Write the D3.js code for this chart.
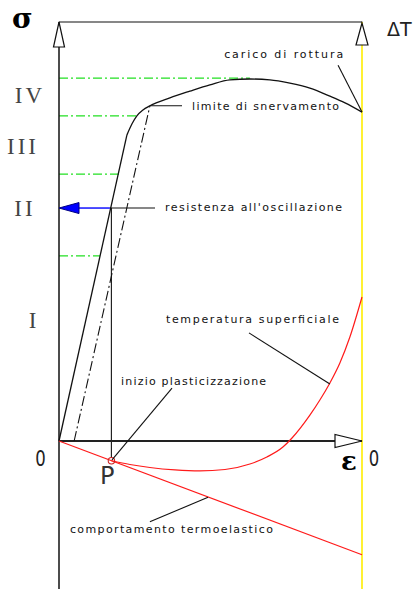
<!DOCTYPE html>
<html>
<head>
<meta charset="utf-8">
<script src="https://cdn.jsdelivr.net/npm/d3@7"></script>
<style>
  body { margin: 0; background: #fff; }
  svg { display: block; }
  .lbl { font-family: "DejaVu Sans", sans-serif; font-size: 11px; fill: #111; }
</style>
</head>
<body>
<script>
// strain and stress both as % of the drawn range (0 = origin, 100 = right / top border)
// elastic part of the stress-strain curve
const elasticStrain = [0, 22.4];
const elasticStress = [0, 73.0];
// plastic part up to rupture
const plasticStrain = [22.4, 24.1, 25.7, 27.7, 30.0, 36.6, 43.2, 49.8, 56.4, 63.0, 69.6, 76.2, 82.8, 89.4, 94.4, 100];
const plasticStress = [73.0, 75.7, 77.6, 79.0, 80.0, 81.9, 83.5, 85.0, 86.2, 86.4, 86.2, 85.4, 84.2, 82.3, 80.7, 78.5];
// unloading line (dash-dot) parallel to elastic line
const unloadStrain = [5.0, 30.0];
const unloadStress = [0, 80.0];

// green dash-dot stress levels and where they meet the curve
const levelStress = [86.6, 77.6, 63.7, 44.2];
const levelStrain = [63.0, 25.7, 19.8, 13.5];

// fatigue limit (blue arrow) and point P
const oscStress = 55.6;
const oscStrain = 16.8;
const pStrain = 17.3;

// temperature (right axis, ΔT in arbitrary units)
const thermoStrain = [0, 100];
const thermoDT = [0, -7.9];
const tempStrain = [17.3, 23.4, 30.0, 38.3, 46.5, 54.8, 63.0, 68.6, 73.9, 76.9, 82.8, 86.1, 89.4, 92.7, 96.0, 100];
const tempDT = [-1.37, -1.63, -1.84, -2.01, -2.08, -1.98, -1.60, -1.11, -0.42, 0.21, 1.80, 2.85, 4.03, 5.42, 7.22, 10.0];

// zone labels on the stress axis
const zoneLabels = ["IV", "III", "II", "I"];
const zoneStress = [82.6, 70.4, 55.6, 28.9];

const W = 413, H = 589;
const padL = 59, padR = 362, padT = 22, padB = 441;

const svg = d3.select("body").append("svg")
  .attr("width", W)
  .attr("height", H);

svg.append("rect").attr("width", W).attr("height", H).attr("fill", "#fff");

const x = d3.scaleLinear().domain([0, 100]).range([padL, padR]);
const y = d3.scaleLinear().domain([0, 100]).range([padB, padT]);
const yT = d3.scaleLinear().domain([0, 10]).range([padB, 297]);

const zip = (a, b) => a.map((v, i) => [v, b[i]]);

//green stress levels
svg.append("g").selectAll("line")
  .data(zip(levelStrain, levelStress))
  .enter().append("line")
  .attr("x1", x(0)).attr("x2", d => x(d[0]))
  .attr("y1", d => y(d[1])).attr("y2", d => y(d[1]))
  .attr("stroke", "#22e022")
  .attr("stroke-width", 1.2)
  .attr("stroke-dasharray", "9,3,2,3");

//right (temperature) axis, yellow
svg.append("line")
  .attr("x1", x(100)).attr("x2", x(100))
  .attr("y1", y(100)).attr("y2", H)
  .attr("stroke", "#ffee00").attr("stroke-width", 1.6);

//top border
svg.append("line")
  .attr("x1", x(0)).attr("x2", x(100))
  .attr("y1", y(100)).attr("y2", y(100))
  .attr("stroke", "#111").attr("stroke-width", 1.2);

//stress axis
svg.append("line")
  .attr("x1", x(0)).attr("x2", x(0))
  .attr("y1", y(100)).attr("y2", H)
  .attr("stroke", "#111").attr("stroke-width", 1.5);

//strain axis
svg.append("line")
  .attr("x1", x(0)).attr("x2", x(100))
  .attr("y1", y(0)).attr("y2", y(0))
  .attr("stroke", "#222").attr("stroke-width", 2);

//vertical from fatigue limit down to P
svg.append("line")
  .attr("x1", x(pStrain)).attr("x2", x(pStrain))
  .attr("y1", y(oscStress)).attr("y2", yT(tempDT[0]) - 3)
  .attr("stroke", "#222").attr("stroke-width", 1.2);

//stress-strain curve
const sLine = d3.line().x(d => x(d[0])).y(d => y(d[1]));
svg.append("path")
  .attr("d", sLine(zip(elasticStrain, elasticStress)))
  .attr("fill", "none").attr("stroke", "#111").attr("stroke-width", 1.3);
svg.append("path")
  .attr("d", sLine.curve(d3.curveMonotoneX)(zip(plasticStrain, plasticStress)))
  .attr("fill", "none").attr("stroke", "#111").attr("stroke-width", 1.3);

svg.append("path")
  .attr("d", d3.line().x(d => x(d[0])).y(d => y(d[1]))(zip(unloadStrain, unloadStress)))
  .attr("fill", "none").attr("stroke", "#111").attr("stroke-width", 1.1)
  .attr("stroke-dasharray", "10,3,2,3");

//temperature lines
const tLine = d3.line().x(d => x(d[0])).y(d => yT(d[1]));
svg.append("path")
  .attr("d", tLine(zip(thermoStrain, thermoDT)))
  .attr("fill", "none").attr("stroke", "#ff1a1a").attr("stroke-width", 1.2);
svg.append("path")
  .attr("d", tLine.curve(d3.curveMonotoneX)(zip(tempStrain, tempDT)))
  .attr("fill", "none").attr("stroke", "#ff1a1a").attr("stroke-width", 1.2);

//P marker
svg.append("circle")
  .attr("cx", x(pStrain)).attr("cy", yT(tempDT[0]))
  .attr("r", 3.2)
  .attr("fill", "none").attr("stroke", "#cc2222").attr("stroke-width", 1.1);

//blue arrow to the stress axis
svg.append("line")
  .attr("x1", x(0) + 20).attr("x2", x(oscStrain))
  .attr("y1", y(oscStress)).attr("y2", y(oscStress))
  .attr("stroke", "#0000ff").attr("stroke-width", 1.4);
svg.append("path")
  .attr("d", `M${x(0)},${y(oscStress)} L${x(0) + 20},${y(oscStress) - 5.5} L${x(0) + 20},${y(oscStress) + 5.5} Z`)
  .attr("fill", "#0000ff").attr("stroke", "#000080").attr("stroke-width", 1);

//open arrow heads
function openHead(tipX, tipY, dir, len, half) {
  let p;
  if (dir === "up") p = `M${tipX},${tipY} L${tipX - half},${tipY + len} L${tipX + half},${tipY + len} Z`;
  else p = `M${tipX},${tipY} L${tipX - len},${tipY - half} L${tipX - len},${tipY + half} Z`;
  svg.append("path").attr("d", p)
    .attr("fill", "#fff").attr("stroke", "#111").attr("stroke-width", 1.2);
}
openHead(x(0), y(100), "up", 25, 5.5);
openHead(x(100), y(100) + 1, "up", 22, 6);
openHead(x(100), y(0), "right", 27, 6.5);

//annotations: [text, textX, textY(stress units), textLength, leader points]
const notes = [
  ["carico di rottura", 54.5, 91.4, 119, [[92.1, 89.7], [100, 78.5]]],
  ["limite di snervamento", 43.9, 79.0, 147, [[30.0, 80.0], [40.6, 80.0]]],
  ["resistenza all'oscillazione", 35.0, 54.9, 177, [[oscStrain, oscStress], [31.7, oscStress]]],
  ["temperatura superficiale", 35.3, 28.2, 173, [[62.7, 25.8], [89.4, 13.6]]],
  ["inizio plasticizzazione", 20.5, 13.4, 145, [[37.3, 12.6], [17.5, -4.5]]],
  ["comportamento termoelastico", 3.6, -22.0, 203, [[30.0, -19.3], [49.2, -13.4]]]
];

notes.forEach(function(n) {
  svg.append("path")
    .attr("d", d3.line().x(d => x(d[0])).y(d => y(d[1]))(n[4]))
    .attr("fill", "none").attr("stroke", "#111").attr("stroke-width", 1.1);
  svg.append("text")
    .attr("class", "lbl")
    .attr("x", x(n[1])).attr("y", y(n[2]))
    .attr("textLength", n[3])
    .attr("lengthAdjust", "spacing")
    .text(n[0]);
});

//roman zone labels
const zoneX = [30, 23, 25, 34];
svg.append("g").selectAll("text")
  .data(zoneLabels)
  .enter().append("text")
  .attr("x", (d, i) => zoneX[i])
  .attr("y", (d, i) => y(zoneStress[i]))
  .attr("dy", "0.35em")
  .attr("text-anchor", "middle")
  .style("font-family", "'Liberation Serif', serif")
  .style("font-size", "23px")
  .style("letter-spacing", "3px")
  .style("fill", "#444")
  .text(d => d);

//axis symbols
svg.append("text").attr("x", 12).attr("y", 28)
  .style("font-family", "'DejaVu Serif', serif").style("font-size", "28px").style("font-weight", "bold")
  .text("σ");
svg.append("text").attr("x", 341).attr("y", 470)
  .style("font-family", "'DejaVu Serif', serif").style("font-size", "26px").style("font-weight", "bold")
  .text("ε");
svg.append("text").attr("x", 387).attr("y", 36)
  .style("font-family", "'DejaVu Sans', sans-serif").style("font-size", "19px").style("fill", "#222")
  .text("ΔT");

[[40.5, "0"], [374, "0"]].forEach(function(d) {
  svg.append("text").attr("x", d[0]).attr("y", 466)
    .attr("text-anchor", "middle")
    .style("font-family", "'DejaVu Sans', sans-serif").style("font-size", "22px").style("fill", "#222")
    .attr("transform", `translate(${d[0]},0) scale(0.75,1) translate(${-d[0]},0)`)
    .text(d[1]);
});
svg.append("text").attr("x", 100).attr("y", 484)
  .style("font-family", "'DejaVu Sans', sans-serif").style("font-size", "24px").style("fill", "#333")
  .text("P");
</script>
</body>
</html>
